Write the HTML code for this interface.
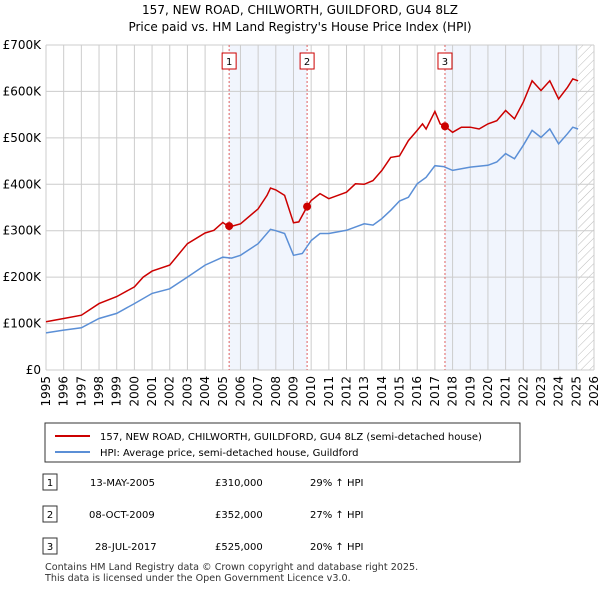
<!DOCTYPE html>
<html><head><meta charset="utf-8"><style>
body{margin:0;background:#fff;font-family:"DejaVu Sans",sans-serif;}
svg text{font-family:"DejaVu Sans",sans-serif;}
</style></head><body>
<svg id="c" width="600" height="590" xmlns="http://www.w3.org/2000/svg">
<text x="300" y="14" text-anchor="middle" font-size="12">157, NEW ROAD, CHILWORTH, GUILDFORD, GU4 8LZ</text>
<text x="300" y="31" text-anchor="middle" font-size="12">Price paid vs. HM Land Registry's House Price Index (HPI)</text>
<g id="plot"></g>
<g>
<rect x="45" y="423" width="475" height="39" fill="#fff" stroke="#333"/>
<line x1="55" y1="436" x2="90" y2="436" stroke="#cc0000" stroke-width="2"/>
<text x="100" y="440" font-size="10">157, NEW ROAD, CHILWORTH, GUILDFORD, GU4 8LZ (semi-detached house)</text>
<line x1="55" y1="452" x2="90" y2="452" stroke="#5b8fd6" stroke-width="2"/>
<text x="100" y="456" font-size="10">HPI: Average price, semi-detached house, Guildford</text>
</g>
<g font-size="10">
<rect x="43" y="474" width="14" height="16" fill="#fff" stroke="#333"/><text x="50" y="486" text-anchor="middle">1</text>
<text x="90" y="486">13-MAY-2005</text><text x="215" y="486">£310,000</text><text x="310" y="486">29% ↑ HPI</text>
<rect x="43" y="506" width="14" height="16" fill="#fff" stroke="#333"/><text x="50" y="518" text-anchor="middle">2</text>
<text x="89" y="518">08-OCT-2009</text><text x="215" y="518">£352,000</text><text x="310" y="518">27% ↑ HPI</text>
<rect x="43" y="538" width="14" height="16" fill="#fff" stroke="#333"/><text x="50" y="550" text-anchor="middle">3</text>
<text x="95" y="550">28-JUL-2017</text><text x="215" y="550">£525,000</text><text x="310" y="550">20% ↑ HPI</text>
</g>
<text x="45" y="570" font-size="9.6" fill="#333">Contains HM Land Registry data © Crown copyright and database right 2025.</text>
<text x="45" y="581" font-size="9.6" fill="#333">This data is licensed under the Open Government Licence v3.0.</text>
</svg>
<script>
const hpiYears=[1995,1996,1997,1998,1999,2000,2001,2002,2003,2004,2005,2005.5,2006,2007,2007.7,2008,2008.5,2009,2009.5,2010,2010.5,2011,2012,2013,2013.5,2014,2014.5,2015,2015.5,2016,2016.5,2017,2017.5,2018,2019,2020,2020.5,2021,2021.5,2022,2022.5,2023,2023.5,2024,2024.5,2024.8,2025.1];
const hpiValues=[80,86,91,111,122,143,165,175,200,226,243,241,247,272,303,300,294,247,251,279,294,294,301,315,312,326,344,364,372,401,415,440,438,430,437,441,448,466,455,484,516,501,519,487,509,523,519];
const priceYears=[1995,1996,1997,1998,1999,2000,2000.5,2001,2002,2003,2004,2004.5,2005,2005.36,2006,2007,2007.5,2007.7,2008,2008.5,2009,2009.3,2009.77,2010,2010.5,2011,2011.5,2012,2012.5,2013,2013.5,2014,2014.5,2015,2015.5,2016,2016.3,2016.5,2017,2017.3,2017.57,2018,2018.5,2019,2019.5,2020,2020.5,2021,2021.5,2022,2022.5,2023,2023.5,2024,2024.5,2024.8,2025.1];
const priceValues=[104,111,118,143,158,179,200,213,226,272,295,301,318,308,315,347,376,392,388,376,317,319,352,365,380,369,376,383,401,400,408,430,458,461,494,516,530,519,557,530,525,512,523,523,519,530,537,559,541,577,623,602,623,584,609,627,623];
const saleLabels=["1","2","3"];
const saleYears=[2005.36,2009.77,2017.57];
const saleValues=[310,352,525];
const yTicks=[0,100,200,300,400,500,600,700];
const yTickLabels=["£0","£100K","£200K","£300K","£400K","£500K","£600K","£700K"];
const xTicks=[1995,1996,1997,1998,1999,2000,2001,2002,2003,2004,2005,2006,2007,2008,2009,2010,2011,2012,2013,2014,2015,2016,2017,2018,2019,2020,2021,2022,2023,2024,2025,2026];
const dataEnd=2025.1;

const L=46,R=594,T=45,B=370;
const xs=y=>L+(y-1995)/(2026-1995)*(R-L);
const ys=v=>B-v/700*(B-T);
const NS="http://www.w3.org/2000/svg";
const g=document.getElementById('plot');
function mk(tag,attrs,parent){const e=document.createElementNS(NS,tag);for(const k in attrs)e.setAttribute(k,attrs[k]);(parent||g).appendChild(e);return e;}

const s1=mk('rect',{x:xs(saleYears[0]),y:T,width:xs(saleYears[1])-xs(saleYears[0]),height:B-T,fill:'#f1f5fd'});


const s2=mk('rect',{x:xs(saleYears[2]),y:T,width:xs(dataEnd)-xs(saleYears[2]),height:B-T,fill:'#f1f5fd'});


const defs=mk('defs',{});
const pat=mk('pattern',{id:'h',width:6,height:6,patternUnits:'userSpaceOnUse',patternTransform:'rotate(45)'},defs);
mk('line',{x1:0,y1:0,x2:0,y2:6,stroke:'#bbb','stroke-width':1},pat);
const hz=mk('rect',{x:xs(dataEnd),y:T,width:R-xs(dataEnd),height:B-T,fill:'url(#h)'});


xTicks.forEach(t=>{
 const l=mk('line',{x1:xs(t),y1:T,x2:xs(t),y2:B,stroke:'#ccc','stroke-width':1});
 
 
 const tx=mk('text',{x:0,y:0,'font-size':12,'text-anchor':'end',transform:`translate(${xs(t)+4},${B+6}) rotate(-90)`});
 tx.textContent=t;
 
 
});
yTicks.forEach((t,i)=>{
 const l=mk('line',{x1:L,y1:ys(t),x2:R,y2:ys(t),stroke:'#ccc','stroke-width':1});
 
 
 const tx=mk('text',{x:L-5,y:ys(t)+4,'font-size':12,'text-anchor':'end'});
 tx.textContent=yTickLabels[i];
 
 
});
saleYears.forEach((y,i)=>{
 const l=mk('line',{x1:xs(y),y1:T,x2:xs(y),y2:B,stroke:'#e06060','stroke-width':1,'stroke-dasharray':'2,2'});
 
 
 const r=mk('rect',{x:xs(y)-7,y:53,width:14,height:16,fill:'#fff',stroke:'#cc0000'});
 
 
 const t=mk('text',{x:xs(y),y:65,'font-size':10,'text-anchor':'middle'});
 t.textContent=saleLabels[i];
 
 
});
const hp=mk('path',{d:hpiYears.map((y,i)=>(i?'L':'M')+xs(y).toFixed(1)+','+ys(hpiValues[i]).toFixed(1)).join(''),fill:'none',stroke:'#5b8fd6','stroke-width':1.5});


const pp=mk('path',{d:priceYears.map((y,i)=>(i?'L':'M')+xs(y).toFixed(1)+','+ys(priceValues[i]).toFixed(1)).join(''),fill:'none',stroke:'#cc0000','stroke-width':1.5});


saleYears.forEach((y,i)=>{
 const c=mk('circle',{cx:xs(y),cy:ys(saleValues[i]),r:4,fill:'#cc0000'});
 
 
});
</script>
</body></html>
